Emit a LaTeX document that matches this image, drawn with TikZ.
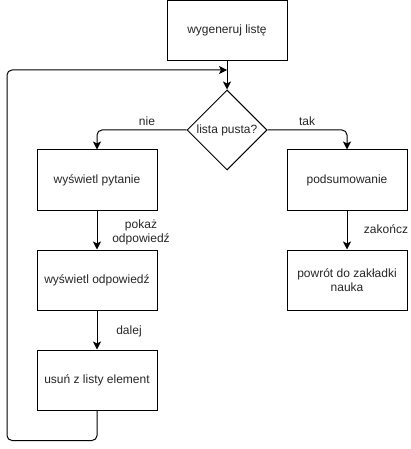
\documentclass[tikz,border=0pt]{standalone}
\usepackage{fontspec}
\setmainfont{Liberation Sans}
\usetikzlibrary{shapes.geometric,arrows.meta}
\begin{document}
\begin{tikzpicture}[x=1pt,y=-1pt,
  box/.style={draw,line width=1pt,minimum width=120pt,minimum height=60pt,inner sep=0pt,align=center,font=\fontsize{12}{14}\selectfont,text=black!85},
  dec/.style={draw,diamond,aspect=1,line width=1pt,minimum width=80pt,minimum height=80pt,inner sep=0pt,font=\fontsize{12}{14}\selectfont,text=black!85},
  lbl/.style={font=\fontsize{12}{14}\selectfont,align=center,inner sep=0pt,text=black!85},
  conn/.style={line width=1pt,-{Stealth[length=8pt,width=8pt,inset=2pt]},rounded corners=5pt}]
\useasboundingbox (0,0) rectangle (410,449);
\node[box] (gen) at (227,30.5) {wygeneruj listę};
\node[dec] (q) at (227,130) {lista pusta?};
\node[box] (pyt) at (97,180) {wyświetl pytanie};
\node[box] (odp) at (97,280) {wyświetl odpowiedź};
\node[box] (usun) at (97,380) {usuń z listy element};
\node[box] (pods) at (347,180) {podsumowanie};
\node[box] (powr) at (347,280) {powrót do zakładki\\nauka};
\coordinate (loopend) at (227,70);
\draw[conn] (gen) -- (q);
\draw[conn] (q.west) -| (pyt.north);
\draw[conn] (q.east) -| (pods.north);
\draw[conn] (pyt) -- (odp);
\draw[conn] (odp) -- (usun);
\draw[conn] (pods) -- (powr);
\draw[conn] (usun.south) -- ++(0,30) -| (7,70) -- (loopend);
\node[lbl] (lnie) at (147,121) {nie};
\node[lbl] (ltak) at (307,121) {tak};
\node[lbl] (lpokaz) at (141,232) {pokaż\\odpowiedź};
\node[lbl] (ldalej) at (129,331) {dalej};
\node[lbl] (lzak) at (386,229) {zakończ};
\end{tikzpicture}
\end{document}
